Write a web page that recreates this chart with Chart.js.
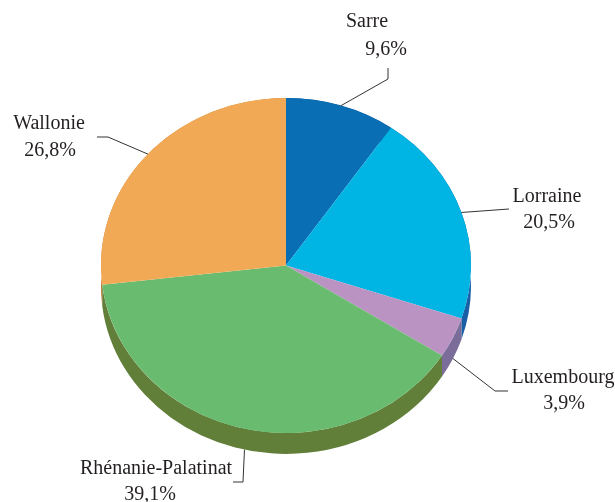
<!DOCTYPE html>
<html lang="fr">
<head>
<meta charset="UTF-8">
<title>Répartition par région</title>
<script src="https://cdn.jsdelivr.net/npm/chart.js"></script>
<style>
  html, body { margin: 0; padding: 0; background: #fff; }
</style>
</head>
<body>
<canvas id="camembert" width="615" height="502"></canvas>
<script>
// données
var regions = ['Sarre', 'Lorraine', 'Luxembourg', 'Rhénanie-Palatinat', 'Wallonie'];
var parts = [9.6, 20.5, 3.9, 39.1, 26.8];
var etiquettes = ['9,6%', '20,5%', '3,9%', '39,1%', '26,8%'];

var couleurs = ['#0A6EB5', '#00B4E3', '#BA93C2', '#69BB6F', '#F2A955'];
var couleursCote = ['#0B5A98', '#1A5FA5', '#7A6D99', '#617F39', '#B97A38'];

var aplat = 0.905;     // écrasement vertical de l'ellipse
var epaisseur = 21;    // épaisseur du disque en pixels

// position des textes et coudes des traits de rappel
var placement = [
  { coude: [[388, 79], [388, 68]], txt: [[367, 22], [386, 50]] },
  { coude: [[509, 209]], txt: [[547, 197], [549, 223]] },
  { coude: [[495, 391], [508, 391]], txt: [[563, 378], [564, 404]] },
  { coude: [[243, 482], [233, 482]], txt: [[156, 469], [150, 495]] },
  { coude: [[108, 137], [97, 137]], txt: [[49, 124], [50, 151]] }
];

var relief = {
  id: 'relief',
  beforeDatasetsDraw: function(chart) {
    var ctx = chart.ctx;
    var arcs = chart.getDatasetMeta(0).data;
    var cx = arcs[0].x, cy = arcs[0].y;
    ctx.save();
    ctx.translate(cx, cy);
    ctx.scale(1, aplat);
    ctx.translate(-cx, -cy);
    var d = epaisseur / aplat;
    arcs.forEach(function(arc, i) {
      var p = arc.getProps(['x', 'y', 'startAngle', 'endAngle', 'outerRadius'], true);
      ctx.beginPath();
      ctx.arc(p.x, p.y, p.outerRadius, p.startAngle, p.endAngle);
      ctx.arc(p.x, p.y + d, p.outerRadius, p.endAngle, p.startAngle, true);
      ctx.closePath();
      ctx.fillStyle = couleursCote[i];
      ctx.fill();
    });
  },
  afterDatasetsDraw: function(chart) {
    chart.ctx.restore();
  },
  afterDraw: function(chart) {
    var ctx = chart.ctx;
    var arcs = chart.getDatasetMeta(0).data;
    ctx.save();
    ctx.strokeStyle = '#333';
    ctx.lineWidth = 1;
    ctx.fillStyle = '#231F20';
    ctx.font = '20px "Liberation Serif", "Times New Roman", serif';
    ctx.textAlign = 'center';
    ctx.textBaseline = 'middle';
    arcs.forEach(function(arc, i) {
      var p = arc.getProps(['x', 'y', 'startAngle', 'endAngle', 'outerRadius'], true);
      var a = (p.startAngle + p.endAngle) / 2;
      var sx = p.x + p.outerRadius * Math.cos(a);
      var sy = p.y + p.outerRadius * Math.sin(a) * aplat;
      if (Math.sin(a) > 0.3) sy += epaisseur;
      ctx.beginPath();
      ctx.moveTo(sx, sy);
      placement[i].coude.forEach(function(pt) { ctx.lineTo(pt[0], pt[1]); });
      ctx.stroke();
      ctx.fillText(regions[i], placement[i].txt[0][0], placement[i].txt[0][1]);
      ctx.fillText(etiquettes[i], placement[i].txt[1][0], placement[i].txt[1][1]);
    });
    ctx.restore();
  }
};

var ctx = document.getElementById('camembert').getContext('2d');
var chart = new Chart(ctx, {
  type: 'pie',
  data: {
    labels: regions,
    datasets: [{
      data: parts,
      backgroundColor: couleurs,
      borderWidth: 0,
      clip: false
    }]
  },
  options: {
    responsive: false,
    animation: false,
    layout: { padding: { left: 101, right: 144, top: 80.5, bottom: 51.5 } },
    plugins: {
      legend: { display: false },
      tooltip: { enabled: false }
    }
  },
  plugins: [relief]
});
</script>
</body>
</html>
